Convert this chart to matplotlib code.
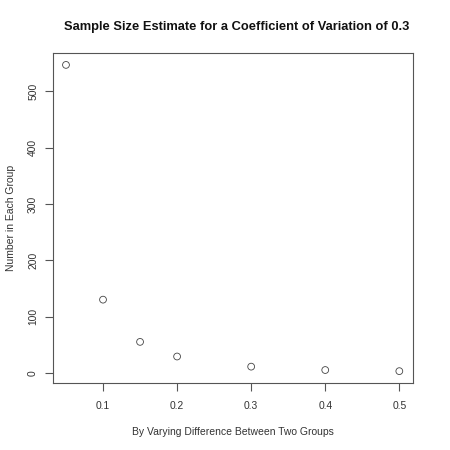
import matplotlib
matplotlib.use("Agg")
import matplotlib.pyplot as plt

diff = [0.05, 0.1, 0.15, 0.2, 0.3, 0.4, 0.5]
n_group = [547, 130, 55, 29, 11, 5, 3]
xticks = [0.1, 0.2, 0.3, 0.4, 0.5]
yticks = [0, 100, 200, 300, 400, 500]

plt.rcParams['font.family'] = ['Liberation Sans', 'DejaVu Sans']

fig = plt.figure(figsize=(4.5, 4.5), dpi=100)
ax = fig.add_axes([0.117, 0.148, 0.8, 0.735])
ax.scatter(diff, n_group, s=24, facecolors='none', edgecolors='#444444', linewidths=0.6)

xr = max(diff) - min(diff)
yr = max(n_group) - min(n_group)
ax.set_xlim(min(diff) - 0.04 * xr, max(diff) + 0.04 * xr)
ax.set_ylim(min(n_group) - 0.04 * yr, max(n_group) + 0.04 * yr)

ax.set_xticks(xticks)
ax.set_xticklabels([str(v) for v in xticks])
ax.set_yticks(yticks)
ax.set_yticklabels([str(v) for v in yticks], rotation=90, va='center')

for s in ax.spines.values():
    s.set_color('#555555')
    s.set_linewidth(0.8)
ax.tick_params(colors='#555555', labelcolor='#333333', labelsize=7.4, length=5.5, width=0.8)
ax.tick_params(axis='x', pad=7)
ax.tick_params(axis='y', pad=5)

ax.set_xlabel('By Varying Difference Between Two Groups', fontsize=7.5, color='#333333', va='center')
ax.xaxis.set_label_coords(0.5, -0.146)
ax.set_ylabel('Number in Each Group', fontsize=7.5, color='#333333', va='center')
ax.yaxis.set_label_coords(-0.116, 0.5)
fig.text(0.526, 0.939, 'Sample Size Estimate for a Coefficient of Variation of 0.3',
         ha='center', va='center', fontsize=9.3, fontweight='bold', color='#111111')

fig.savefig('out.png', dpi=100, facecolor='white')
